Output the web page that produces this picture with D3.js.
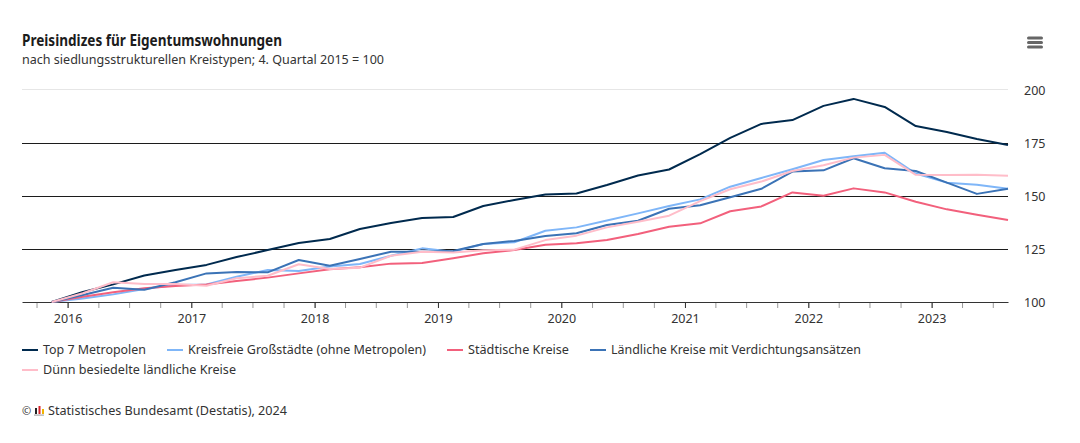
<!DOCTYPE html>
<html lang="de">
  <head>
    <meta charset="utf-8">
    <script src="https://cdn.jsdelivr.net/npm/d3@7"></script>
    <style>
      body { margin: 0; background: #fff; }
      svg { display: block; font-family: "Noto Sans", sans-serif; }
      text { fill: #333; }
    </style>
  </head>
  <body>
    <svg id="chart" width="1080" height="443"></svg>
  </body>
  <script>
    var quarters = ["2015-11-15","2016-02-15","2016-05-15","2016-08-15","2016-11-15","2017-02-15","2017-05-15","2017-08-15",
                    "2017-11-15","2018-02-15","2018-05-15","2018-08-15","2018-11-15","2019-02-15","2019-05-15","2019-08-15",
                    "2019-11-15","2020-02-15","2020-05-15","2020-08-15","2020-11-15","2021-02-15","2021-05-15","2021-08-15",
                    "2021-11-15","2022-02-15","2022-05-15","2022-08-15","2022-11-15","2023-02-15","2023-05-15","2023-08-15"];

    var top7 = [100,104.7,108.3,112.5,115.1,117.5,121.2,124.5,127.8,129.7,134.4,137.3,139.6,140.1,145.3,148.1,
                150.7,151.2,155.2,159.7,162.5,169.8,177.4,184,185.8,192.5,195.8,192,183,180.2,176.9,174.1];
    var kreisfrei = [100,101.7,103.6,106.1,108,108.3,111.9,115.1,114.6,116.7,117.9,121.8,125.3,123.7,127.4,128.2,
                     133.6,135.2,138.4,141.8,145.3,148.4,154.4,158.5,162.6,167,168.7,170.4,160.6,156.3,155.3,153.4];
    var staedtisch = [100,102.5,104.6,106.5,107.5,108.3,109.9,111.5,113.5,115.4,116.4,118.1,118.4,120.6,123,124.5,
                      127,127.7,129.2,132.1,135.5,137.1,142.8,145.1,151.7,150.1,153.6,151.7,147.3,143.7,141.2,138.7];
    var laendlich = [100,103.3,106.7,105.8,109.3,113.5,114.2,114,119.8,117.1,120.3,123.7,123.7,124.1,127.4,128.8,
                     131.1,132.4,136.3,138.3,144,145.6,149.4,153.4,161.5,162.1,167.8,163.1,161.8,156.3,151,153.4];
    var duenn = [100,104.1,109.3,108.5,108.5,107.7,111.2,112.4,117.8,115.6,116.2,121.8,123.7,123.4,124.4,124.7,
                 129.2,131.3,135.2,137.9,140.7,147.6,153.2,156.8,161.8,164.5,168.1,169.4,160,159.9,160,159.6];

    var seriesNames = ["Top 7 Metropolen","Kreisfreie Großstädte (ohne Metropolen)","Städtische Kreise",
                       "Ländliche Kreise mit Verdichtungsansätzen","Dünn besiedelte ländliche Kreise"];
    var seriesValues = [top7,kreisfrei,staedtisch,laendlich,duenn];
    var seriesColors = ["#002a4e","#7fb6f8","#f2607c","#3b73b6","#ffbdc9"];
    var yTicks = [100,125,150,175,200];

    var svg = d3.select("#chart");
    var parse = d3.utcParse("%Y-%m-%d");

    var x = d3.scaleUtc()
      .domain([Date.UTC(2015,7,19), parse("2023-08-15")])
      .range([22,1008]);
    var y = d3.scaleLinear().domain([100,200]).range([302,90]);

    // squeeze each text to the width it has in the original (other font)
    function fit(sel, w){
      return sel.attr("textLength",w).attr("lengthAdjust","spacingAndGlyphs");
    }

    // grid, the top line is the light one
    function gridY(d){
      return d==200 ? y(d)-0.5 : Math.round(y(d))+0.5;
    }
    svg.append("g").selectAll("line")
      .data(yTicks.slice(1)).enter()
      .append("line")
      .attr("x1",22).attr("x2",1008)
      .attr("y1",gridY)
      .attr("y2",gridY)
      .attr("stroke",function(d){ return d==200 ? "#e6e6e6" : "#1c1c1c"; });

    svg.append("g").selectAll("text")
      .data(yTicks).enter()
      .append("text")
      .text(function(d){ return d; })
      .attr("x",1024)
      .attr("y",function(d){ return y(d)+4.5; })
      .attr("font-size",12.5);

    // x axis: quarter ticks, then the years with labels
    var minor = svg.append("g").attr("transform","translate(0,302)")
      .call(d3.axisBottom(x).ticks(d3.utcMonth.every(3)).tickSize(6).tickFormat(""));
    minor.select(".domain").remove();
    minor.selectAll("line").attr("stroke","#999");

    var major = svg.append("g").attr("transform","translate(0,302)")
      .call(d3.axisBottom(x).ticks(d3.utcYear.every(1)).tickSize(6).tickSizeOuter(0).tickFormat(d3.utcFormat("%Y")));
    major.select(".domain").attr("stroke","#333");
    major.selectAll("line").attr("stroke","#333");
    major.selectAll("text")
      .attr("font-size",12.5).attr("font-family","'Noto Sans', sans-serif")
      .attr("y",10).attr("dy","0.85em").style("fill","#333");

    // lines
    var line = d3.line()
      .x(function(d,i){ return x(parse(quarters[i])); })
      .y(function(d){ return y(d); });

    svg.append("g").selectAll("path")
      .data(seriesValues).enter()
      .append("path")
      .attr("d",line)
      .attr("fill","none")
      .attr("stroke",function(d,i){ return seriesColors[i]; })
      .attr("stroke-width",2)
      .attr("stroke-linejoin","round");

    // titles
    fit(svg.append("text").text("Preisindizes für Eigentumswohnungen")
      .attr("x",22).attr("y",46).attr("font-size",16).attr("font-weight",700).style("fill","#1c1c1c"),260);
    fit(svg.append("text").text("nach siedlungsstrukturellen Kreistypen; 4. Quartal 2015 = 100")
      .attr("x",22).attr("y",64).attr("font-size",12.5),362);

    // menu icon
    svg.append("g").selectAll("rect")
      .data([37,41.5,46]).enter()
      .append("rect")
      .attr("x",1027).attr("y",function(d){ return d-0.5; })
      .attr("width",16).attr("height",3).attr("rx",1.5)
      .attr("fill","#666");

    // legend
    var legendX = [22,167,447,590,22];
    var legendY = [350,350,350,350,370];
    var legendW = [103,238,101,250,193];
    var legend = svg.append("g").selectAll("g")
      .data(seriesNames).enter()
      .append("g")
      .attr("transform",function(d,i){ return "translate("+legendX[i]+","+legendY[i]+")"; });
    legend.append("line")
      .attr("x1",0).attr("x2",16)
      .attr("stroke",function(d,i){ return seriesColors[i]; })
      .attr("stroke-width",2);
    legend.append("text")
      .text(function(d){ return d; })
      .attr("x",21).attr("y",4).attr("font-size",12.5)
      .each(function(d,i){ fit(d3.select(this),legendW[i]); });

    // credit
    svg.append("text").text("©").attr("x",22).attr("y",415).attr("font-size",11);
    var logo = svg.append("g").attr("transform","translate(34,406)");
    logo.append("rect").attr("x",1).attr("y",2).attr("width",2).attr("height",6).attr("fill","#222");
    logo.append("rect").attr("x",4.5).attr("y",0).attr("width",2).attr("height",8).attr("fill","#d8232a");
    logo.append("rect").attr("x",8).attr("y",3).attr("width",2).attr("height",5).attr("fill","#f0b400");
    logo.append("rect").attr("x",0).attr("y",8.5).attr("width",10).attr("height",1.2).attr("fill","#aaa");
    fit(svg.append("text").text("Statistisches Bundesamt (Destatis), 2024")
      .attr("x",48).attr("y",415).attr("font-size",12.5),239);
  </script>
</html>
